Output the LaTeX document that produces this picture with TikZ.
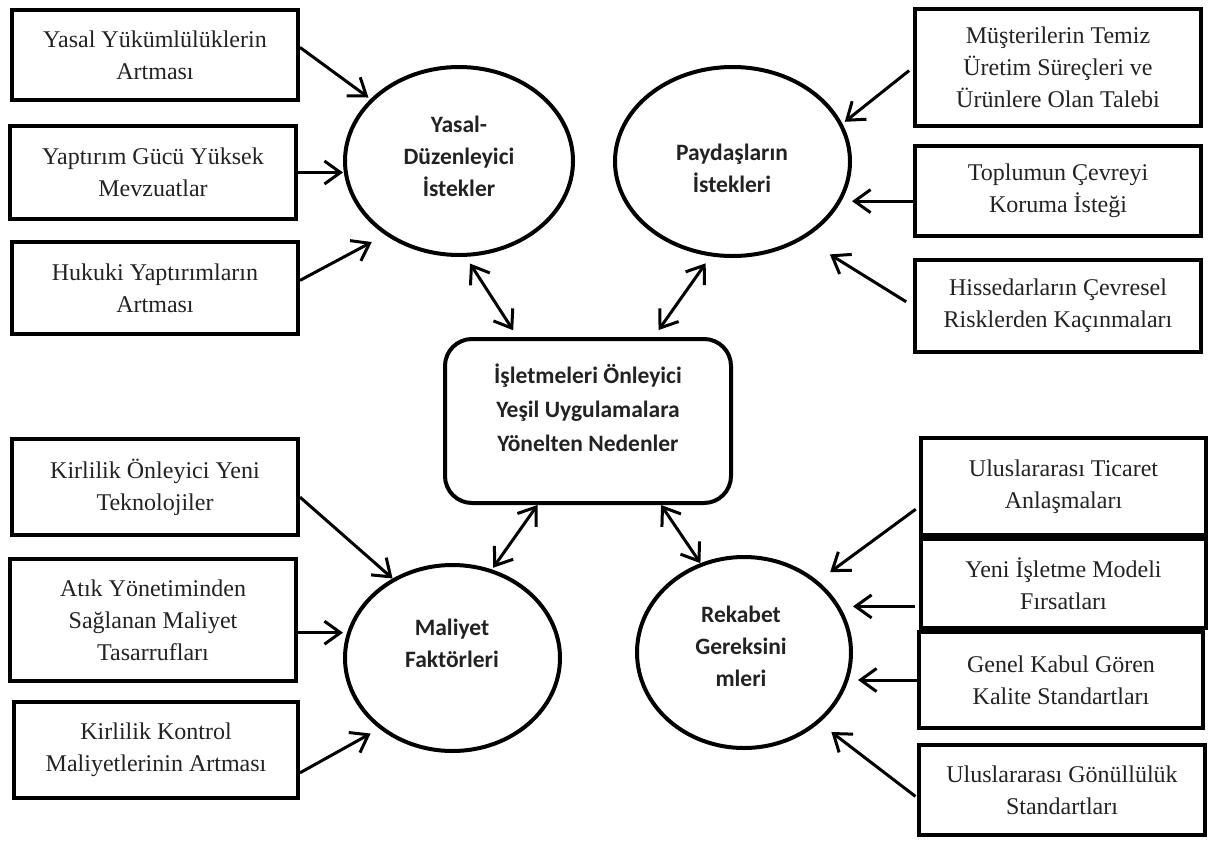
\documentclass[tikz,border=0pt]{standalone}
\usepackage{fontspec}
\setmainfont{Liberation Serif}
\newfontfamily\sanslabel{Carlito}
\usetikzlibrary{arrows.meta,shapes.geometric}
\definecolor{ink}{HTML}{222222}

\begin{document}
\begin{tikzpicture}[x=1pt,y=-1pt,
  box/.style={draw, line width=4pt, rectangle, inner sep=0pt, align=center,
    minimum width=286pt, text=ink, font=\fontsize{24}{32}\selectfont},
  oval/.style={draw, ellipse, line width=4pt, inner sep=0pt},
  corebox/.style={draw, rectangle, rounded corners=27pt, line width=4pt, inner sep=0pt},
  lbl/.style={align=center, inner sep=0pt, text=ink,
    font=\sanslabel\bfseries\fontsize{23.5}{32}\selectfont},
  arr/.style={line width=3pt, -{Straight Barb[length=16pt,width=23pt]}},
  dbl/.style={line width=3pt, {Straight Barb[length=16pt,width=23pt]}-{Straight Barb[length=16pt,width=23pt]}}
]
\useasboundingbox (0,0) rectangle (1209,841);

% outer boxes
\node[box, minimum height=90pt] (b1) at (155,55) {Yasal Yükümlülüklerin\\Artması};
\node[box, minimum height=93pt] (b2) at (153,172.5) {Yaptırım Gücü Yüksek\\Mevzuatlar};
\node[box, minimum height=92pt] (b3) at (155,288) {Hukuki Yaptırımların\\Artması};
\node[box, minimum height=117pt] (b4) at (1058,67.5) {Müşterilerin Temiz\\Üretim Süreçleri ve\\Ürünlere Olan Talebi};
\node[box, minimum height=90pt] (b5) at (1058,191) {Toplumun Çevreyi\\Koruma İsteği};
\node[box, minimum height=92pt] (b6) at (1058,306) {Hissedarların Çevresel\\Risklerden Kaçınmaları};
\node[box, minimum height=96pt] (b7) at (155,487) {Kirlilik Önleyici Yeni\\Teknolojiler};
\node[box, minimum height=122pt] (b8) at (153,620) {Atık Yönetiminden\\Sağlanan Maliyet\\Tasarrufları};
\node[box, minimum height=96pt, minimum width=284pt] (b9) at (156,750) {Kirlilik Kontrol\\Maliyetlerinin Artması};
\node[box, minimum height=97pt, minimum width=285pt] (b10) at (1063.5,486.5) {Uluslararası Ticaret\\Anlaşmaları};
\node[box, minimum height=89pt, minimum width=285pt] (b11) at (1063.5,583.5) {Yeni İşletme Modeli\\Fırsatları};
\node[box, minimum height=96pt, minimum width=284pt] (b12) at (1061,680) {Genel Kabul Gören\\Kalite Standartları};
\node[box, minimum height=90pt] (b13) at (1062,790) {Uluslararası Gönüllülük\\Standartları};

% factor groups
\node[oval, minimum width=228pt, minimum height=188pt] (yasal) at (459,161) {};
\node[oval, minimum width=235pt, minimum height=189pt] (pay) at (732.5,161.5) {};
\node[oval, minimum width=215pt, minimum height=186pt] (mal) at (452.5,658) {};
\node[oval, minimum width=214pt, minimum height=191pt] (rek) at (744,652.5) {};
\node[corebox, minimum width=286pt, minimum height=164pt] (core) at (588,421) {};

\node[lbl] (yasal-t) at (459,156) {Yasal-\\Düzenleyici\\İstekler};
\node[lbl] (pay-t) at (732,168) {Paydaşların\\İstekleri};
\node[lbl] (mal-t) at (452,643) {Maliyet\\Faktörleri};
\node[lbl] (rek-t) at (741,646) {Rekabet\\Gereksini\\mleri};
\node[lbl, font=\sanslabel\bfseries\fontsize{23.5}{34}\selectfont] (core-t) at (588,408) {İşletmeleri Önleyici\\Yeşil Uygulamalara\\Yönelten Nedenler};

% influences on the groups
\draw[arr, shorten >=2.5pt] (b1.3) -- (yasal.145);
\draw[arr] (b2.east) -- (b2.east -| yasal.west);
\draw[arr, shorten >=15pt] (b3.3) -- (yasal.225);
\draw[arr, shorten <=5pt, shorten >=3pt] (b4.west) -- (pay.19);
\draw[arr] (b5.184) -- (b5.184 -| pay.east);
\draw[arr, shorten <=8pt, shorten >=30pt] (b6.west) -- (pay.313);
\draw[arr] (b7.356) -- (mal.127);
\draw[arr] (b8.355) -- (b8.355 -| mal.west);
\draw[arr, shorten >=10pt] (b9.351) -- (mal.224);
\draw[arr, shorten <=4pt, shorten >=15pt] (b10.188) -- (rek.44);
\draw[arr, shorten <=4pt] (b11.189) -- (b11.189 -| rek.east);
\draw[arr, shorten >=5pt] (b12.west) -- (b12.west -| rek.east);
\draw[arr, shorten <=2pt, shorten >=15pt] (b13.183) -- (rek.317);

% links between the groups and the core
\draw[dbl, shorten <=8pt, shorten >=8pt] (yasal.274) -- (core.130);
\draw[dbl, shorten <=8.5pt, shorten >=8.5pt] (pay.257) -- (core.52);
\draw[dbl, shorten >=2pt] (core.239) -- (mal.66);
\draw[dbl] (core.311) -- (rek.116);
\end{tikzpicture}
\end{document}
